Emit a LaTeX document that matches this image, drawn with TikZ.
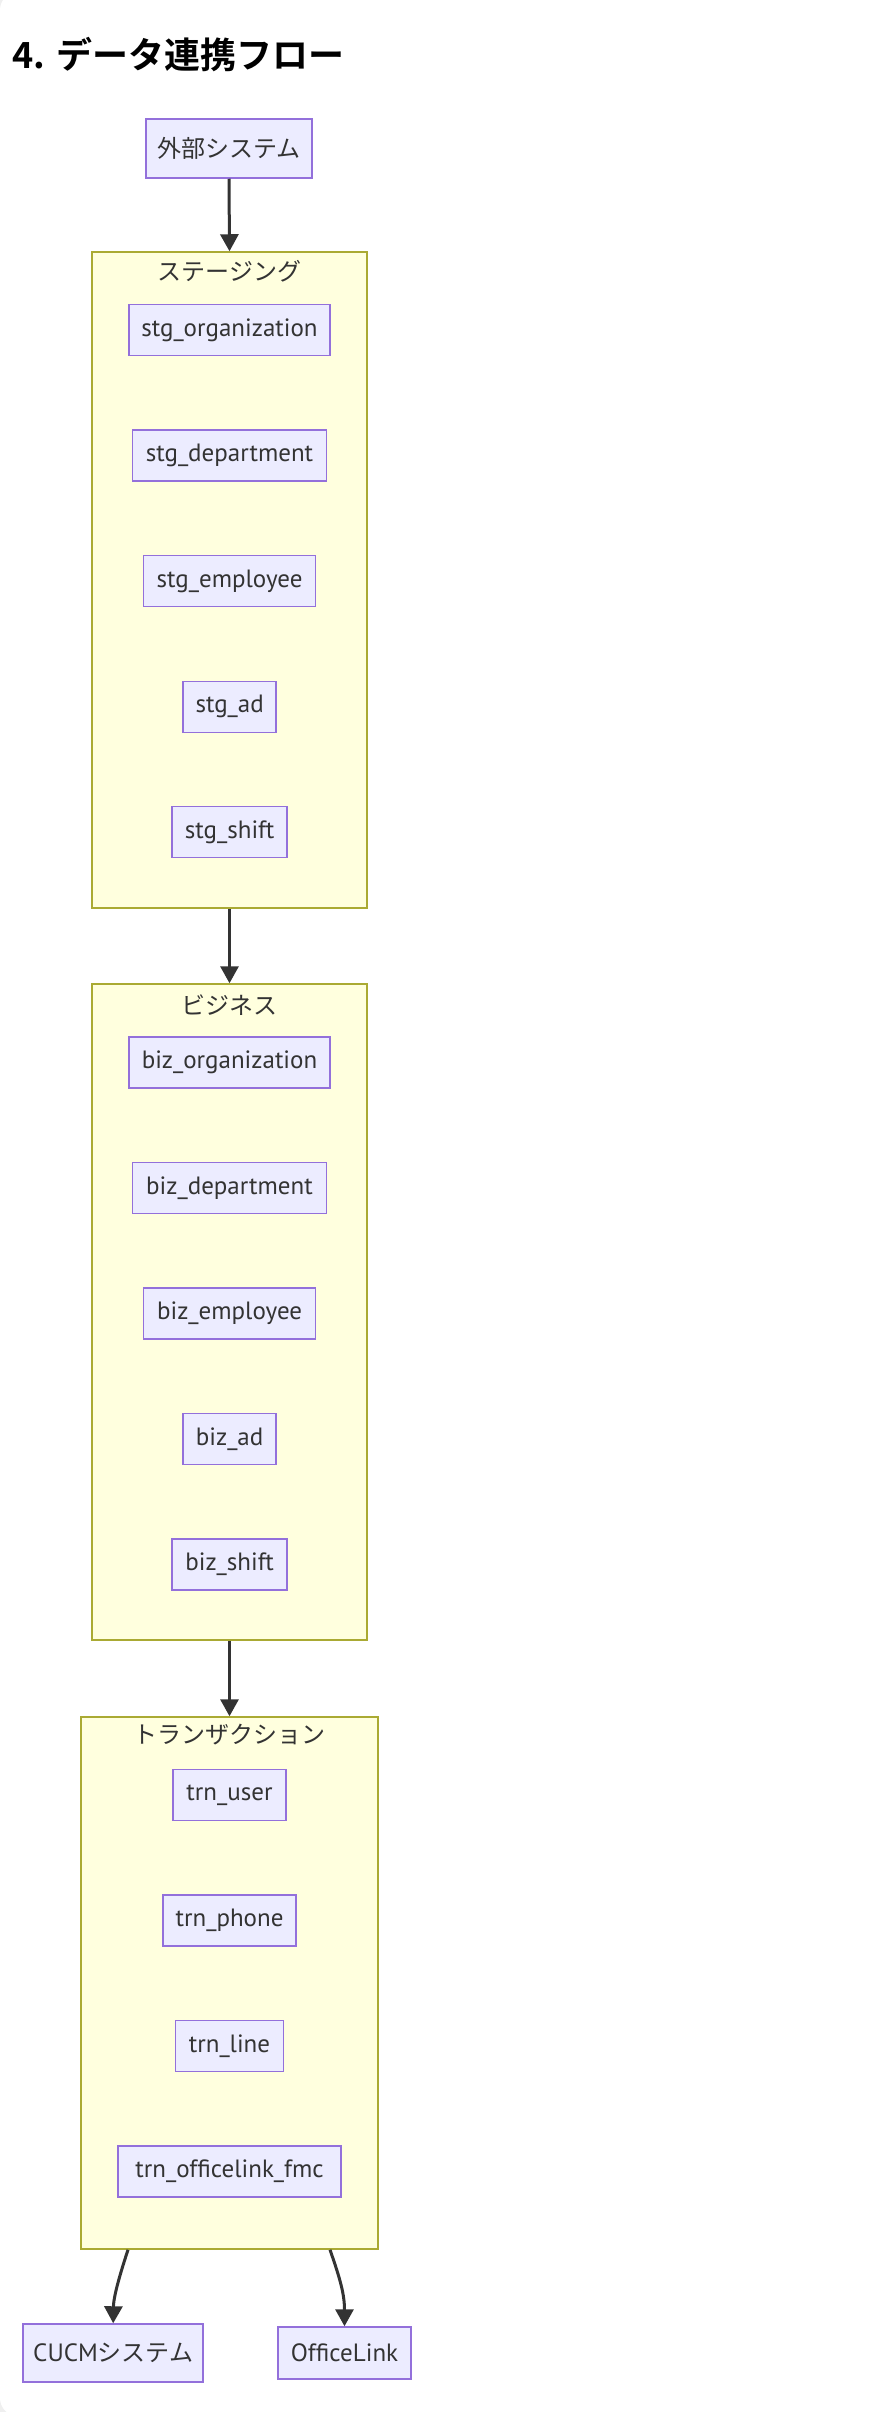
\documentclass[tikz,border=0pt]{standalone}
\usepackage{fontspec}
\setmainfont{Noto Sans CJK JP}[BoldFont={Noto Sans CJK JP Bold}]
\newfontfamily\latf{PT Sans}
\usetikzlibrary{arrows.meta}
\definecolor{nodefill}{HTML}{ECECFF}
\definecolor{nodeline}{HTML}{9370DB}
\definecolor{clfill}{HTML}{FFFFDE}
\definecolor{clline}{HTML}{AAAA33}
\definecolor{txt}{HTML}{333333}
\definecolor{outer}{HTML}{EFEFEF}
\tikzset{
  box/.style={draw=nodeline, fill=nodefill, line width=1.5pt, inner sep=0pt,
    minimum height=51pt, text=txt, font=\fontsize{24pt}{28pt}\selectfont},
  lbox/.style={box, font=\fontsize{25pt}{29pt}\selectfont\latf},
  cluster/.style={draw=clline, fill=clfill, line width=1.5pt, inner sep=0pt},
  cllabel/.style={inner sep=0pt, text=txt, font=\fontsize{24pt}{28pt}\selectfont},
  flow/.style={draw=txt, line width=3pt, -{Triangle[width=18pt,length=17pt]}}
}
\begin{document}
\begin{tikzpicture}[x=1pt,y=-1pt]
\useasboundingbox (0,0) rectangle (873,2412);
\fill[outer] (0,0) rectangle (873,2412);
\fill[white, rounded corners=18pt] (0,-8) rectangle (900,2416);
% title
\node[anchor=base west, inner sep=0pt, font=\fontsize{36pt}{42pt}\selectfont\bfseries] (title) at (12,68) {4. データ連携フロー};
% external
\node[box, minimum width=166pt, minimum height=59pt] (ext) at (229,148.5) {外部システム};
% staging cluster
\node[cluster, minimum width=275pt, minimum height=656pt] (stg) at (229.5,580) {};
\node[cllabel] (stgl) at (229.5,271) {ステージング};
\node[lbox, minimum width=201pt] (s1) at (229.5,330) {stg\_organization};
\node[lbox, minimum width=194pt] (s2) at (229.5,455.7) {stg\_department};
\node[lbox, minimum width=172pt] (s3) at (229.6,581.2) {stg\_employee};
\node[lbox, minimum width=93pt] (s4) at (229.6,706.8) {stg\_ad};
\node[lbox, minimum width=115pt] (s5) at (229.6,832.2) {stg\_shift};
% business cluster
\node[cluster, minimum width=275pt, minimum height=656pt] (biz) at (229.5,1312) {};
\node[cllabel] (bizl) at (229.5,1005) {ビジネス};
\node[lbox, minimum width=201pt] (b1) at (229.5,1062.5) {biz\_organization};
\node[lbox, minimum width=194pt] (b2) at (229.5,1188) {biz\_department};
\node[lbox, minimum width=172pt] (b3) at (229.6,1313.5) {biz\_employee};
\node[lbox, minimum width=93pt] (b4) at (229.6,1439) {biz\_ad};
\node[lbox, minimum width=115pt] (b5) at (229.6,1564.5) {biz\_shift};
% transaction cluster
\node[cluster, minimum width=297pt, minimum height=532pt] (trn) at (229.5,1983) {};
\node[cllabel] (trnl) at (229.5,1735) {トランザクション};
\node[lbox, minimum width=113pt] (t1) at (229.5,1795) {trn\_user};
\node[lbox, minimum width=133pt] (t2) at (229.6,1920.5) {trn\_phone};
\node[lbox, minimum width=108pt] (t3) at (229.5,2046) {trn\_line};
\node[lbox, minimum width=223pt] (t4) at (229.6,2171.5) {trn\_officelink\_fmc};
% outputs
\node[box, minimum width=180pt, minimum height=58pt] (cucm) at (113.2,2353) {{\fontsize{25pt}{29pt}\selectfont\latf CUCM}システム};
\node[lbox, minimum width=133pt, minimum height=52pt] (ol) at (344.5,2353) {OfficeLink};
% edges
\draw[flow] (ext.south) -- (stg.north);
\draw[flow] (stg.south) -- (biz.north);
\draw[flow] (biz.south) -- (trn.north);
\draw[flow] ([xshift=-101.5pt]trn.south) .. controls ([xshift=-113pt,yshift=-35pt]trn.south) and ([xshift=-116pt,yshift=-50pt]trn.south) .. (cucm.north);
\draw[flow] ([xshift=100.5pt]trn.south) .. controls ([xshift=111pt,yshift=-30pt]trn.south) and ([xshift=115pt,yshift=-45pt]trn.south) .. (ol.north);
\end{tikzpicture}
\end{document}
